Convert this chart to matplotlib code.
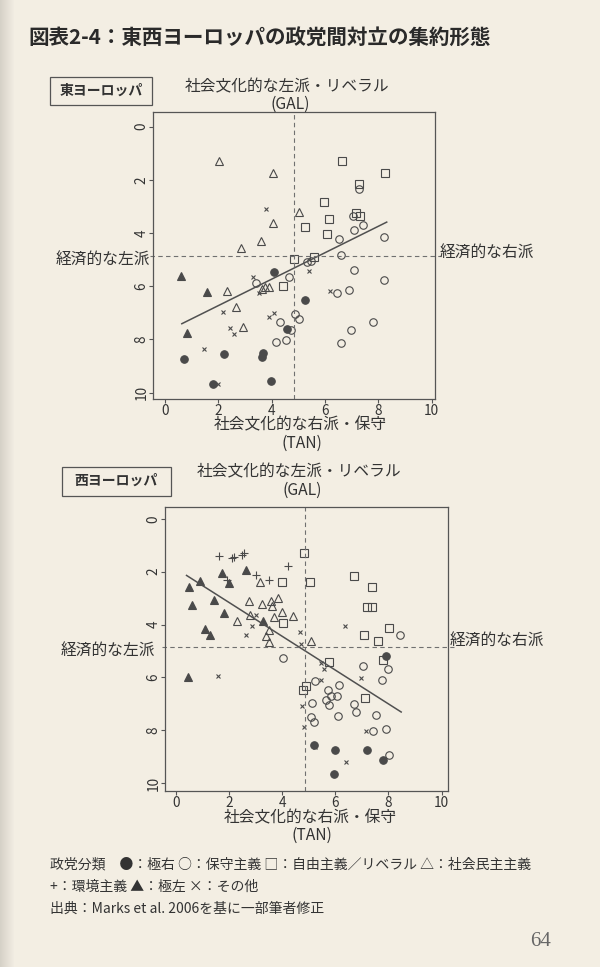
import numpy as np
import matplotlib
matplotlib.use("Agg")
import matplotlib.pyplot as plt
import matplotlib.transforms as mtransforms
from matplotlib.patches import Rectangle

plt.rcParams['font.family'] = ['Noto Sans CJK JP', 'DejaVu Sans']

W, H = 600, 967
PAPER = '#f3eee3'
INK = '#333333'
MARK = '#4a4a4a'

# ---- East Europe ----
east_far_right_x = [4.09, 5.23, 4.56, 0.71, 2.21, 3.69, 3.63, 3.96, 1.81]
east_far_right_y = [5.48, 6.53, 7.62, 8.73, 8.53, 8.52, 8.66, 9.56, 9.67]
east_conservative_x = [7.28, 7.04, 7.09, 7.44, 8.19, 6.53, 6.59, 5.34, 5.48, 4.66, 7.09, 8.19,
                       6.44, 6.88, 4.89, 5.01, 4.31, 4.73, 4.16, 4.54, 6.98, 7.81, 6.58, 3.41]
east_conservative_y = [2.36, 3.36, 3.88, 3.70, 4.14, 4.24, 4.82, 5.10, 5.04, 5.66, 5.39, 5.76,
                       6.24, 6.14, 7.06, 7.22, 7.36, 7.64, 8.08, 8.02, 7.64, 7.34, 8.15, 5.88]
east_liberal_x = [6.65, 8.25, 7.26, 5.95, 6.14, 5.24, 6.06, 7.16, 7.31, 4.84, 5.58, 4.41]
east_liberal_y = [1.28, 1.75, 2.17, 2.82, 3.48, 3.76, 4.03, 3.23, 3.35, 4.99, 4.91, 5.99]
east_socdem_x = [2.03, 4.03, 5.04, 4.03, 3.59, 2.84, 2.34, 2.66, 2.91, 3.63, 3.75, 3.90]
east_socdem_y = [1.28, 1.73, 3.20, 3.63, 4.30, 4.55, 6.17, 6.77, 7.54, 6.12, 6.02, 6.02]
east_far_left_x = [0.59, 1.59, 0.81]
east_far_left_y = [5.61, 6.23, 7.74]
east_green_x = []
east_green_y = []
east_other_x = [3.79, 3.29, 3.54, 2.19, 4.09, 3.91, 2.44, 2.60, 1.46, 2.00, 5.38, 6.19]
east_other_y = [3.10, 5.66, 6.24, 6.96, 7.02, 7.14, 7.58, 7.79, 8.36, 9.69, 5.41, 6.18]
east_fit_x = [0.63, 8.31]
east_fit_y = [7.41, 3.59]

# ---- West Europe ----
west_far_right_x = [7.90, 5.22, 5.98, 7.19, 7.80, 5.94]
west_far_right_y = [5.20, 8.55, 8.74, 8.76, 9.14, 9.65]
west_conservative_x = [8.42, 4.04, 7.03, 7.99, 7.74, 5.23, 6.15, 5.73, 5.85, 6.06, 5.66, 5.78,
                       5.13, 6.71, 6.78, 6.09, 7.53, 5.09, 5.19, 7.43, 7.90, 8.03]
west_conservative_y = [4.38, 5.26, 5.57, 5.70, 6.09, 6.12, 6.27, 6.47, 6.72, 6.72, 6.85, 7.06,
                       6.97, 7.02, 7.31, 7.48, 7.41, 7.50, 7.69, 8.01, 7.94, 8.92]
west_liberal_x = [4.82, 3.99, 5.07, 6.72, 7.39, 7.19, 7.40, 4.05, 7.08, 8.01, 7.61, 7.80,
                  5.75, 4.91, 4.77, 7.12]
west_liberal_y = [1.29, 2.37, 2.37, 2.18, 2.59, 3.32, 3.34, 3.95, 4.38, 4.12, 4.63, 5.33,
                  5.41, 6.31, 6.49, 6.78]
west_socdem_x = [3.17, 2.77, 3.24, 3.58, 3.86, 3.64, 4.01, 4.41, 3.70, 2.81, 2.31, 3.52,
                 3.39, 3.52, 5.09]
west_socdem_y = [2.37, 3.11, 3.24, 3.09, 2.99, 3.28, 3.51, 3.68, 3.72, 3.62, 3.87, 4.22,
                 4.45, 4.67, 4.64]
west_far_left_x = [1.75, 2.65, 0.93, 2.00, 0.51, 0.60, 1.43, 1.80, 1.12, 1.30, 3.27, 0.47]
west_far_left_y = [2.06, 1.95, 2.36, 2.43, 2.56, 3.25, 3.06, 3.57, 4.16, 4.41, 3.87, 5.99]
west_green_x = [1.63, 2.12, 2.21, 2.50, 2.58, 3.04, 3.52, 4.22, 1.93]
west_green_y = [1.39, 1.49, 1.45, 1.35, 1.29, 2.11, 2.33, 1.78, 2.30]
west_other_x = [3.04, 2.87, 2.65, 4.68, 4.71, 6.37, 1.61, 5.48, 5.59, 5.45, 6.97, 4.76,
                4.81, 5.24, 7.14, 6.41]
west_other_y = [3.62, 4.07, 4.41, 4.29, 4.75, 4.06, 5.95, 5.46, 5.67, 6.09, 6.03, 7.10,
                7.86, 8.64, 8.01, 9.21]
west_fit_x = [0.41, 8.48]
west_fit_y = [2.14, 7.31]

ticks = [0, 2, 4, 6, 8, 10]


def fx(px):
    return px / W


def fy(py):
    return 1 - py / H


def axes_at(fig, left, top, right, bottom):
    return fig.add_axes([fx(left), fy(bottom), (right - left) / W, (bottom - top) / H])


def draw_panel(ax, pts, fit_x, fit_y, split_x, split_y, xlim, ylim):
    ax.set_facecolor('none')
    styles = [
        ('far_right', dict(marker='o', ms=5.4, mfc=MARK)),
        ('conservative', dict(marker='o', ms=5.4, mfc='none')),
        ('liberal', dict(marker='s', ms=5.2, mfc='none')),
        ('socdem', dict(marker='^', ms=6.2, mfc='none')),
        ('far_left', dict(marker='^', ms=6.2, mfc=MARK)),
        ('green', dict(marker='+', ms=6.0, mfc='none')),
        ('other', dict(marker='x', ms=3.4, mfc='none')),
    ]
    for key, st in styles:
        xs, ys = pts[key]
        ax.plot(xs, ys, linestyle='none', mec=MARK, mew=0.8, **st)
    ax.plot(fit_x, fit_y, color='#505050', lw=1.1)
    ax.axvline(split_x, color='#707070', lw=0.8, ls=(0, (4, 3)))
    trans = mtransforms.blended_transform_factory(ax.transAxes, ax.transData)
    ax.plot([-0.01, 1.02], [split_y, split_y], color='#707070', lw=0.8,
            ls=(0, (4, 3)), transform=trans, clip_on=False)
    ax.set_xlim(*xlim)
    ax.set_ylim(*ylim)
    ax.set_xticks(ticks)
    ax.set_yticks(ticks)
    ax.tick_params(direction='out', length=3, width=0.8, color='#555555',
                   labelsize=9.8, labelcolor=INK, pad=0.3)
    for lab in ax.get_yticklabels():
        lab.set_rotation(90)
        lab.set_va('center')
    for sp in ax.spines.values():
        sp.set_color('#555555')
        sp.set_linewidth(0.9)


fig = plt.figure(figsize=(W / 100, H / 100), dpi=100, facecolor=PAPER)

# paper background with a slightly darker gutter on the left
bg = fig.add_axes([0, 0, 1, 1], zorder=-10)
bg.axis('off')
cols = np.arange(W)
shade = np.clip(1 - cols / 14.0, 0, 1) * 0.12
base = np.array([0xf3, 0xee, 0xe3]) / 255.0
img = np.tile((base[None, :] * (1 - shade[:, None]))[None, :, :], (2, 1, 1))
bg.imshow(img, aspect='auto', extent=[0, 1, 0, 1])
bg.set_xlim(0, 1)
bg.set_ylim(0, 1)

fig.text(fx(28), fy(37), '図表2-4：東西ヨーロッパの政党間対立の集約形態',
         fontsize=14.8, fontweight='bold', color='#2a2a2a', ha='left', va='center')

# ---- top panel ----
ax1 = axes_at(fig, 153, 112, 435, 399)
draw_panel(ax1,
           {'far_right': (east_far_right_x, east_far_right_y),
            'conservative': (east_conservative_x, east_conservative_y),
            'liberal': (east_liberal_x, east_liberal_y),
            'socdem': (east_socdem_x, east_socdem_y),
            'far_left': (east_far_left_x, east_far_left_y),
            'green': (east_green_x, east_green_y),
            'other': (east_other_x, east_other_y)},
           east_fit_x, east_fit_y, 4.85, 4.87, (-0.45, 10.12), (10.24, -0.55))

fig.add_artist(Rectangle((fx(50), fy(105)), 102 / W, 28 / H, transform=fig.transFigure,
                         fill=False, edgecolor='#555555', lw=0.9))
fig.text(fx(101), fy(91), '東ヨーロッパ', fontsize=10, fontweight='bold', color=INK,
         ha='center', va='center')
fig.text(fx(287), fy(87), '社会文化的な左派・リベラル', fontsize=11.3, color=INK, ha='center', va='center')
fig.text(fx(290), fy(104), '(GAL)', fontsize=11.3, color=INK, ha='center', va='center')
fig.text(fx(150), fy(259), '経済的な左派', fontsize=11.3, color=INK, ha='right', va='center')
fig.text(fx(440), fy(252), '経済的な右派', fontsize=11.3, color=INK, ha='left', va='center')
fig.text(fx(300), fy(425), '社会文化的な右派・保守', fontsize=11.3, color=INK, ha='center', va='center')
fig.text(fx(302), fy(443), '(TAN)', fontsize=11.3, color=INK, ha='center', va='center')

# ---- bottom panel ----
ax2 = axes_at(fig, 165, 507, 448, 791)
draw_panel(ax2,
           {'far_right': (west_far_right_x, west_far_right_y),
            'conservative': (west_conservative_x, west_conservative_y),
            'liberal': (west_liberal_x, west_liberal_y),
            'socdem': (west_socdem_x, west_socdem_y),
            'far_left': (west_far_left_x, west_far_left_y),
            'green': (west_green_x, west_green_y),
            'other': (west_other_x, west_other_y)},
           west_fit_x, west_fit_y, 4.85, 4.85, (-0.4, 10.24), (10.3, -0.45))

fig.add_artist(Rectangle((fx(62), fy(496)), 109 / W, 29 / H, transform=fig.transFigure,
                         fill=False, edgecolor='#555555', lw=0.9))
fig.text(fx(116), fy(481), '西ヨーロッパ', fontsize=10, fontweight='bold', color=INK,
         ha='center', va='center')
fig.text(fx(299), fy(472), '社会文化的な左派・リベラル', fontsize=11.3, color=INK, ha='center', va='center')
fig.text(fx(302), fy(490), '(GAL)', fontsize=11.3, color=INK, ha='center', va='center')
fig.text(fx(155), fy(650), '経済的な左派', fontsize=11.3, color=INK, ha='right', va='center')
fig.text(fx(450), fy(640), '経済的な右派', fontsize=11.3, color=INK, ha='left', va='center')
fig.text(fx(310), fy(818), '社会文化的な右派・保守', fontsize=11.3, color=INK, ha='center', va='center')
fig.text(fx(312), fy(835), '(TAN)', fontsize=11.3, color=INK, ha='center', va='center')

# ---- notes ----
fig.text(fx(50), fy(865), '政党分類　●：極右 ○：保守主義 □：自由主義／リベラル △：社会民主主義',
         fontsize=10, color=INK, ha='left', va='center')
fig.text(fx(50), fy(887), '+：環境主義 ▲：極左 ×：その他',
         fontsize=10, color=INK, ha='left', va='center')
fig.text(fx(50), fy(909), '出典：Marks et al. 2006を基に一部筆者修正',
         fontsize=10, color=INK, ha='left', va='center')
fig.text(fx(541), fy(942), '64', fontsize=15, color='#666666', ha='center', va='center',
         family='Liberation Serif')

fig.savefig('out.png', dpi=100, facecolor=PAPER)
